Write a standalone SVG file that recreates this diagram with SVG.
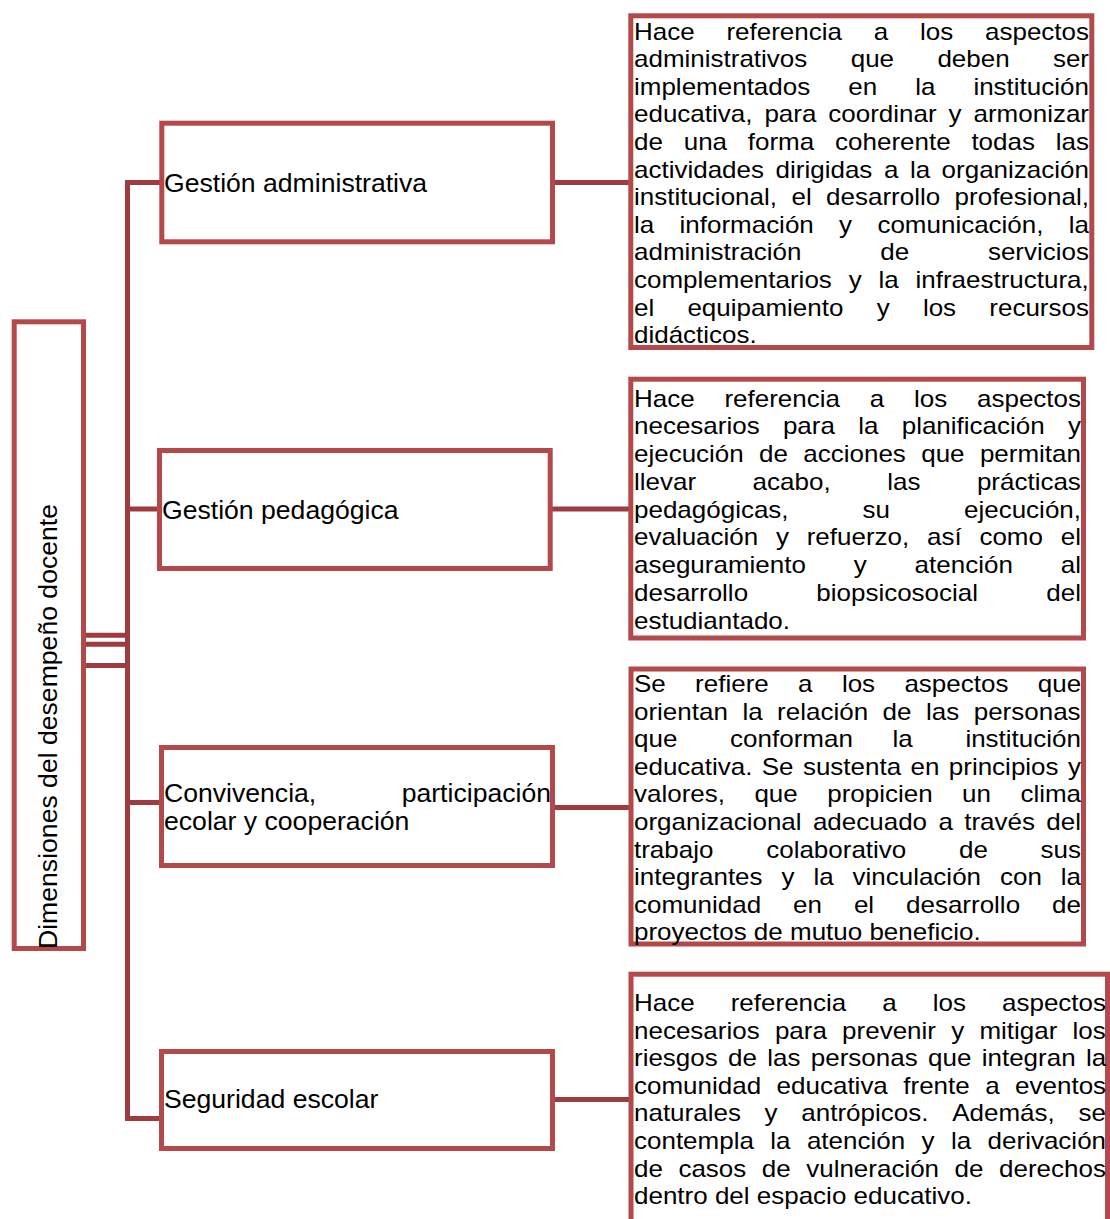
<svg xmlns="http://www.w3.org/2000/svg" width="1110" height="1219" viewBox="0 0 1110 1219">
<style>
.box{fill:none;stroke:#b3494b;stroke-width:5}
.cn{fill:none;stroke:#9e3d40;stroke-width:5;stroke-linejoin:miter;stroke-linecap:butt}
.lt{font-family:"Liberation Sans",Arial,sans-serif;font-size:26.6px;fill:#000;font-kerning:none}
.rt{font-family:"Liberation Sans",Arial,sans-serif;font-size:26px;fill:#000;font-kerning:none}
</style>
<rect x="0" y="0" width="1110" height="1219" fill="#ffffff"/>
<g id="connectors">
<path class="cn" d="M84,635.2 H127.5 M84,644.2 H127.5 M84,665.5 H127.5"/>
<path class="cn" d="M161.8,182.5 H127.5 V1118.5 H161.5"/>
<path class="cn" d="M127.5,509 H159.5 M127.5,802.5 H161.5"/>
<path class="cn" d="M552.5,182.5 H630.8 M550,509 H630.8 M552.5,807.5 H631 M552.5,1099.5 H631"/>
</g>
<g id="root">
<rect class="box" x="14.2" y="321.8" width="69.3" height="626.7"/>
<text class="lt" transform="translate(57,949) rotate(-90)">Dimensiones del desempeño docente</text>
</g>
<g id="n1">
<rect class="box" x="161.8" y="123.2" width="390.7" height="118.6"/>
<text class="lt" x="164" y="191.5">Gestión administrativa</text>
</g>
<g id="n2">
<rect class="box" x="159.5" y="450.5" width="390.7" height="118"/>
<text class="lt" x="162" y="518.5">Gestión pedagógica</text>
</g>
<g id="n3">
<rect class="box" x="161.5" y="747.5" width="391" height="118"/>
<text class="lt" y="802"><tspan x="164">Convivencia,</tspan><tspan x="401.7">participación</tspan></text>
<text class="lt" x="164" y="829.5">ecolar y cooperación</text>
</g>
<g id="n4">
<rect class="box" x="161.5" y="1051.5" width="391" height="97"/>
<text class="lt" x="164" y="1108">Seguridad escolar</text>
</g>
<g id="d1">
<rect class="box" x="630.8" y="15.8" width="461" height="331.7"/>
<text class="rt" transform="translate(0,39.5) scale(1,0.9)"><tspan x="634">Hace</tspan><tspan x="726.4">referencia</tspan><tspan x="873.8">a</tspan><tspan x="920">los</tspan><tspan x="985">aspectos</tspan></text>
<text class="rt" transform="translate(0,67.1) scale(1,0.9)"><tspan x="634">administrativos</tspan><tspan x="850.7">que</tspan><tspan x="937.4">deben</tspan><tspan x="1052.9">ser</tspan></text>
<text class="rt" transform="translate(0,94.7) scale(1,0.9)"><tspan x="634">implementados</tspan><tspan x="848.3">en</tspan><tspan x="915.2">la</tspan><tspan x="973.4">institución</tspan></text>
<text class="rt" transform="translate(0,122.3) scale(1,0.9)"><tspan x="634">educativa,</tspan><tspan x="764.4">para</tspan><tspan x="828.3">coordinar</tspan><tspan x="948.6">y</tspan><tspan x="973.5">armonizar</tspan></text>
<text class="rt" transform="translate(0,149.9) scale(1,0.9)"><tspan x="634">de</tspan><tspan x="683.7">una</tspan><tspan x="747.8">forma</tspan><tspan x="835.1">coherente</tspan><tspan x="971.4">todas</tspan><tspan x="1055.8">las</tspan></text>
<text class="rt" transform="translate(0,177.5) scale(1,0.9)"><tspan x="634">actividades</tspan><tspan x="775.6">dirigidas</tspan><tspan x="883.9">a</tspan><tspan x="909.9">la</tspan><tspan x="941.6">organización</tspan></text>
<text class="rt" transform="translate(0,205.1) scale(1,0.9)"><tspan x="634">institucional,</tspan><tspan x="791.5">el</tspan><tspan x="826.1">desarrollo</tspan><tspan x="954.6">profesional,</tspan></text>
<text class="rt" transform="translate(0,232.7) scale(1,0.9)"><tspan x="634">la</tspan><tspan x="679.5">información</tspan><tspan x="839.1">y</tspan><tspan x="877.4">comunicación,</tspan><tspan x="1068.8">la</tspan></text>
<text class="rt" transform="translate(0,260.3) scale(1,0.9)"><tspan x="634">administración</tspan><tspan x="880.3">de</tspan><tspan x="987.9">servicios</tspan></text>
<text class="rt" transform="translate(0,287.9) scale(1,0.9)"><tspan x="634">complementarios</tspan><tspan x="848.7">y</tspan><tspan x="878.5">la</tspan><tspan x="915.5">infraestructura,</tspan></text>
<text class="rt" transform="translate(0,315.5) scale(1,0.9)"><tspan x="634">el</tspan><tspan x="687.4">equipamiento</tspan><tspan x="876.7">y</tspan><tspan x="922.9">los</tspan><tspan x="989.3">recursos</tspan></text>
<text class="rt" transform="translate(0,343.1) scale(1,0.9)"><tspan x="634">didácticos.</tspan></text>
</g>
<g id="d2">
<rect class="box" x="630.8" y="379.2" width="452.7" height="258.8"/>
<text class="rt" transform="translate(0,406.5) scale(1,0.9)"><tspan x="634">Hace</tspan><tspan x="724.4">referencia</tspan><tspan x="869.8">a</tspan><tspan x="914">los</tspan><tspan x="977">aspectos</tspan></text>
<text class="rt" transform="translate(0,434.3) scale(1,0.9)"><tspan x="634">necesarios</tspan><tspan x="782.9">para</tspan><tspan x="858.2">la</tspan><tspan x="901.7">planificación</tspan><tspan x="1068">y</tspan></text>
<text class="rt" transform="translate(0,462) scale(1,0.9)"><tspan x="634">ejecución</tspan><tspan x="759.1">de</tspan><tspan x="803.3">acciones</tspan><tspan x="921.2">que</tspan><tspan x="979.9">permitan</tspan></text>
<text class="rt" transform="translate(0,489.8) scale(1,0.9)"><tspan x="634">llevar</tspan><tspan x="752.6">acabo,</tspan><tspan x="887.2">las</tspan><tspan x="976.9">prácticas</tspan></text>
<text class="rt" transform="translate(0,517.5) scale(1,0.9)"><tspan x="634">pedagógicas,</tspan><tspan x="862.5">su</tspan><tspan x="964">ejecución,</tspan></text>
<text class="rt" transform="translate(0,545.3) scale(1,0.9)"><tspan x="634">evaluación</tspan><tspan x="776">y</tspan><tspan x="806.7">refuerzo,</tspan><tspan x="927">así</tspan><tspan x="979.4">como</tspan><tspan x="1060.7">el</tspan></text>
<text class="rt" transform="translate(0,573) scale(1,0.9)"><tspan x="634">aseguramiento</tspan><tspan x="853.8">y</tspan><tspan x="914.6">atención</tspan><tspan x="1060.8">al</tspan></text>
<text class="rt" transform="translate(0,600.8) scale(1,0.9)"><tspan x="634">desarrollo</tspan><tspan x="816.3">biopsicosocial</tspan><tspan x="1046.3">del</tspan></text>
<text class="rt" transform="translate(0,628.5) scale(1,0.9)"><tspan x="634">estudiantado.</tspan></text>
</g>
<g id="d3">
<rect class="box" x="631" y="669" width="452.5" height="275"/>
<text class="rt" transform="translate(0,692) scale(1,0.9)"><tspan x="634">Se</tspan><tspan x="695.1">refiere</tspan><tspan x="798.1">a</tspan><tspan x="841.9">los</tspan><tspan x="904.4">aspectos</tspan><tspan x="1037.8">que</tspan></text>
<text class="rt" transform="translate(0,719.6) scale(1,0.9)"><tspan x="634">orientan</tspan><tspan x="742.4">la</tspan><tspan x="777.1">relación</tspan><tspan x="882.6">de</tspan><tspan x="926">las</tspan><tspan x="973.7">personas</tspan></text>
<text class="rt" transform="translate(0,747.2) scale(1,0.9)"><tspan x="634">que</tspan><tspan x="730.1">conforman</tspan><tspan x="892.6">la</tspan><tspan x="965.4">institución</tspan></text>
<text class="rt" transform="translate(0,774.8) scale(1,0.9)"><tspan x="634">educativa.</tspan><tspan x="761.8">Se</tspan><tspan x="802.9">sustenta</tspan><tspan x="910.6">en</tspan><tspan x="948.8">principios</tspan><tspan x="1068">y</tspan></text>
<text class="rt" transform="translate(0,802.4) scale(1,0.9)"><tspan x="634">valores,</tspan><tspan x="754.4">que</tspan><tspan x="827.2">propicien</tspan><tspan x="962.1">un</tspan><tspan x="1020.4">clima</tspan></text>
<text class="rt" transform="translate(0,830) scale(1,0.9)"><tspan x="634">organizacional</tspan><tspan x="812.9">adecuado</tspan><tspan x="938.4">a</tspan><tspan x="964.2">través</tspan><tspan x="1046.3">del</tspan></text>
<text class="rt" transform="translate(0,857.6) scale(1,0.9)"><tspan x="634">trabajo</tspan><tspan x="766.2">colaborativo</tspan><tspan x="959.1">de</tspan><tspan x="1040.5">sus</tspan></text>
<text class="rt" transform="translate(0,885.2) scale(1,0.9)"><tspan x="634">integrantes</tspan><tspan x="781.5">y</tspan><tspan x="813.4">la</tspan><tspan x="852.5">vinculación</tspan><tspan x="1000">con</tspan><tspan x="1060.8">la</tspan></text>
<text class="rt" transform="translate(0,912.8) scale(1,0.9)"><tspan x="634">comunidad</tspan><tspan x="793.1">en</tspan><tspan x="853.9">el</tspan><tspan x="906">desarrollo</tspan><tspan x="1052">de</tspan></text>
<text class="rt" transform="translate(0,940.4) scale(1,0.9)"><tspan x="634">proyectos de mutuo beneficio.</tspan></text>
</g>
<g id="d4">
<rect class="box" x="631" y="974.2" width="476.5" height="270"/>
<text class="rt" transform="translate(0,1011) scale(1,0.9)"><tspan x="634">Hace</tspan><tspan x="730.7">referencia</tspan><tspan x="882.3">a</tspan><tspan x="932.8">los</tspan><tspan x="1002">aspectos</tspan></text>
<text class="rt" transform="translate(0,1038.6) scale(1,0.9)"><tspan x="634">necesarios</tspan><tspan x="774.9">para</tspan><tspan x="842.1">prevenir</tspan><tspan x="951.2">y</tspan><tspan x="979.4">mitigar</tspan><tspan x="1072.6">los</tspan></text>
<text class="rt" transform="translate(0,1066.2) scale(1,0.9)"><tspan x="634">riesgos</tspan><tspan x="728.1">de</tspan><tspan x="767.3">las</tspan><tspan x="810.8">personas</tspan><tspan x="928">que</tspan><tspan x="981.7">integran</tspan><tspan x="1085.9">la</tspan></text>
<text class="rt" transform="translate(0,1093.8) scale(1,0.9)"><tspan x="634">comunidad</tspan><tspan x="776.6">educativa</tspan><tspan x="903.3">frente</tspan><tspan x="985.2">a</tspan><tspan x="1015.1">eventos</tspan></text>
<text class="rt" transform="translate(0,1121.4) scale(1,0.9)"><tspan x="634">naturales</tspan><tspan x="764.6">y</tspan><tspan x="801.3">antrópicos.</tspan><tspan x="952.2">Además,</tspan><tspan x="1078.5">se</tspan></text>
<text class="rt" transform="translate(0,1149) scale(1,0.9)"><tspan x="634">contempla</tspan><tspan x="770.3">la</tspan><tspan x="806.9">atención</tspan><tspan x="921.6">y</tspan><tspan x="951">la</tspan><tspan x="987.6">derivación</tspan></text>
<text class="rt" transform="translate(0,1176.6) scale(1,0.9)"><tspan x="634">de</tspan><tspan x="678.4">casos</tspan><tspan x="761.8">de</tspan><tspan x="806.2">vulneración</tspan><tspan x="954.6">de</tspan><tspan x="999">derechos</tspan></text>
<text class="rt" transform="translate(0,1204.2) scale(1,0.9)"><tspan x="634">dentro del espacio educativo.</tspan></text>
</g>
</svg>
